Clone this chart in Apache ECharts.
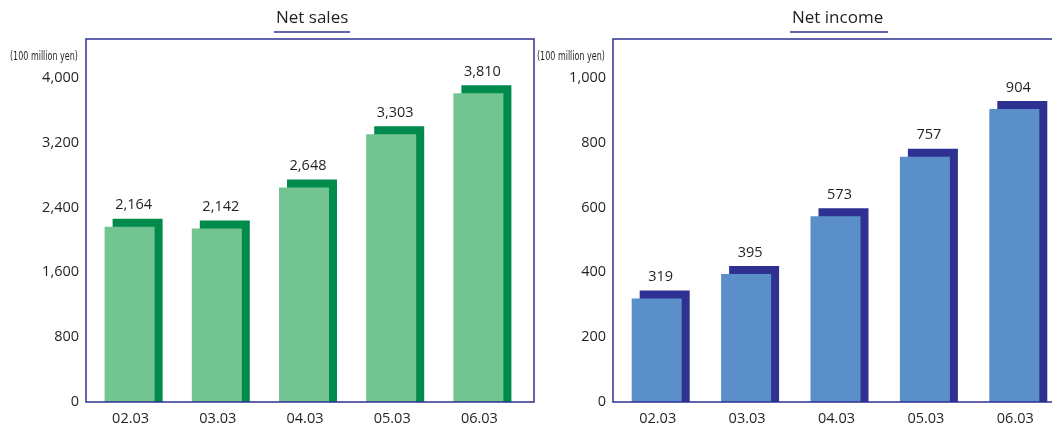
<!DOCTYPE html>
<html>
<head>
<meta charset="utf-8">
<script src="https://cdn.jsdelivr.net/npm/echarts@6/dist/echarts.min.js"></script>
<style>
html,body{margin:0;padding:0;background:#fff;overflow:hidden;}
#chart{width:1052px;height:425px;}
</style>
</head>
<body>
<div id="chart"></div>
<script>
const categories = ['02.03', '03.03', '04.03', '05.03', '06.03'];
const netSales = [2164, 2142, 2648, 3303, 3810];
const netIncome = [319, 395, 573, 757, 904];
const salesTicks = [0, 800, 1600, 2400, 3200, 4000];
const incomeTicks = [0, 200, 400, 600, 800, 1000];
const panelTitles = ['Net sales', 'Net income'];
const unitLabel = '(100 million yen)';

const chart = echarts.init(document.getElementById('chart'));
const FONT = '"Open Sans", "Noto Sans", sans-serif';
const OFF = 8, BW = 50;
const TXT = '#231f20';
const borderColor = '#2e3192';

function makeRender(frontColor, backColor) {
  return function (params, api) {
    const x = api.value(0), v = api.value(1);
    const top = api.coord([x, v]);
    const base = api.coord([x, 0]);
    const fx = top[0] - BW / 2 - 1;
    const h = base[1] - top[1];
    return {
      type: 'group',
      children: [
        { type: 'rect', shape: { x: fx + OFF, y: top[1] - OFF, width: BW, height: h + OFF }, style: { fill: backColor } },
        { type: 'rect', shape: { x: fx, y: top[1], width: BW, height: h }, style: { fill: frontColor } },
        { type: 'text', x: fx + BW / 2 + 4, y: top[1] - OFF - 6,
          style: { text: echarts.format.addCommas(v), fill: TXT, font: '14.5px ' + FONT, align: 'center', verticalAlign: 'bottom' } }
      ]
    };
  };
}

function tickFmt(ticks) {
  return function (val) { return ticks.indexOf(val) >= 0 ? echarts.format.addCommas(val) : ''; };
}

const unitFont = '12px "DejaVu Sans Condensed", "Liberation Sans Narrow", "Liberation Sans", sans-serif';

chart.setOption({
  animation: false,
  graphic: [
    { type: 'rect', shape: { x: 86, y: 39, width: 448, height: 363 }, style: { fill: 'none', stroke: borderColor, lineWidth: 1.5 }, z: 10 },
    { type: 'polyline', shape: { points: [[1070, 39], [613, 39], [613, 402], [1070, 402]] }, style: { fill: 'none', stroke: borderColor, lineWidth: 1.5 }, z: 10 },
    { type: 'text', x: 276, y: 10, style: { text: panelTitles[0], font: '17px ' + FONT, fill: TXT } },
    { type: 'line', shape: { x1: 274, y1: 32, x2: 350, y2: 32 }, style: { stroke: borderColor, lineWidth: 1.5 } },
    { type: 'text', x: 792, y: 10, style: { text: panelTitles[1], font: '17px ' + FONT, fill: TXT } },
    { type: 'line', shape: { x1: 790, y1: 32, x2: 888, y2: 32 }, style: { stroke: borderColor, lineWidth: 1.5 } },
    { type: 'text', x: 10, y: 51, scaleX: 0.74, style: { text: unitLabel, font: unitFont, fill: TXT } },
    { type: 'text', x: 537, y: 51, scaleX: 0.74, style: { text: unitLabel, font: unitFont, fill: TXT } }
  ],
  grid: [
    { left: 87, top: 39, width: 436, height: 363, outerBoundsMode: 'none', containLabel: false },
    { left: 613, top: 39, width: 447, height: 363, outerBoundsMode: 'none', containLabel: false }
  ],
  xAxis: [0, 1].map(i => ({
    type: 'category', gridIndex: i, data: categories,
    axisLine: { show: false }, axisTick: { show: false },
    axisLabel: { color: TXT, fontSize: 14.5, fontFamily: FONT, margin: 9 }
  })),
  yAxis: [
    { type: 'value', gridIndex: 0, min: 0, max: 4480, interval: 800,
      splitLine: { show: false }, axisLine: { show: false }, axisTick: { show: false },
      axisLabel: { color: TXT, fontSize: 14.5, fontFamily: FONT, margin: 8, showMaxLabel: false, formatter: tickFmt(salesTicks) } },
    { type: 'value', gridIndex: 1, min: 0, max: 1120, interval: 200,
      splitLine: { show: false }, axisLine: { show: false }, axisTick: { show: false },
      axisLabel: { color: TXT, fontSize: 14.5, fontFamily: FONT, margin: 7, showMaxLabel: false, formatter: tickFmt(incomeTicks) } }
  ],
  series: [
    { type: 'custom', xAxisIndex: 0, yAxisIndex: 0, renderItem: makeRender('#72c590', '#008a4b'),
      data: netSales.map((v, i) => [i, v]), encode: { x: 0, y: 1 }, clip: false },
    { type: 'custom', xAxisIndex: 1, yAxisIndex: 1, renderItem: makeRender('#5b8fca', '#2e3192'),
      data: netIncome.map((v, i) => [i, v]), encode: { x: 0, y: 1 }, clip: false }
  ]
});
</script>
</body>
</html>
